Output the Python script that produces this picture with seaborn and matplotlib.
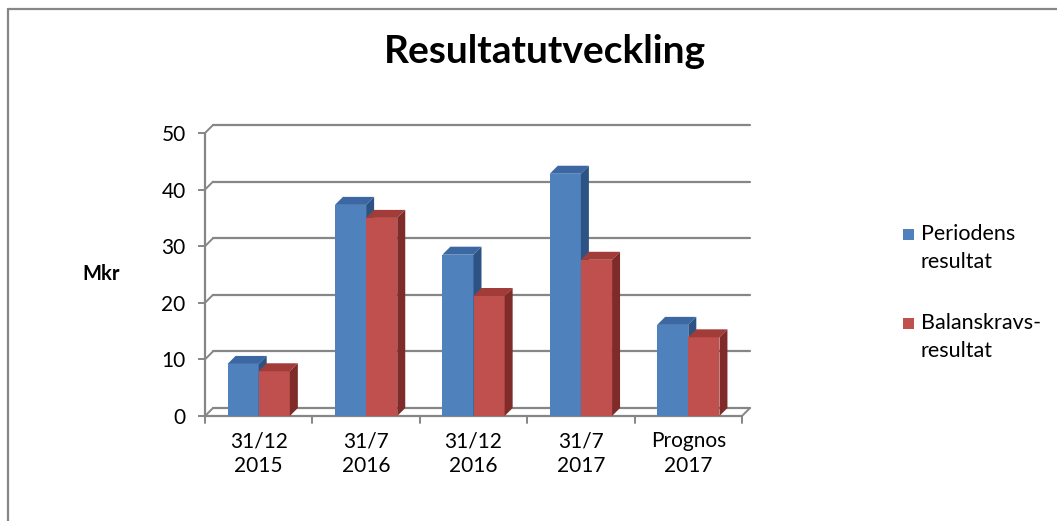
import pandas as pd
import matplotlib.pyplot as plt
import seaborn as sns
from matplotlib.patches import Polygon, Rectangle
from matplotlib.lines import Line2D

# Data
perioder = ['31/12\n2015', '31/7\n2016', '31/12\n2016', '31/7\n2017', 'Prognos\n2017']
periodens_resultat = [9.2, 37.3, 28.5, 42.8, 16.1]
balanskravsresultat = [7.9, 35.0, 21.2, 27.6, 13.9]
serier = ['Periodens resultat', 'Balanskravs-resultat']
y_ticks = [0, 10, 20, 30, 40, 50]

df = pd.DataFrame({
    'Period': perioder * 2,
    'Mkr': periodens_resultat + balanskravsresultat,
    'Serie': [serier[0]] * 5 + [serier[1]] * 5,
})

front = ['#4F81BD', '#C0504D']
top = ['#3B68A3', '#A23C39']
side = ['#2C5384', '#7E2B29']
grey = '#868686'

sns.set_style('white')
plt.rcParams['font.family'] = ['Lato', 'DejaVu Sans']
plt.rcParams['text.color'] = 'black'
plt.rcParams['xtick.color'] = 'black'
plt.rcParams['ytick.color'] = 'black'

W, H = 1057, 521
fig = plt.figure(figsize=(W / 100, H / 100), dpi=100)

# plot area in pixels (front face of the 3D box)
x0, x1, y0, y1 = 205, 742, 133, 416
ax = fig.add_axes([x0 / W, (H - y1) / H, (x1 - x0) / W, (y1 - y0) / H])

sns.barplot(data=df, x='Period', y='Mkr', hue='Serie', palette=front,
            width=0.58, saturation=1, legend=False, ax=ax)

ax.set_xlim(-0.5, 4.5)
ax.set_ylim(0, 50)
dx = 8 / ((x1 - x0) / 5)   # depth offset in data units
dy = 8 / ((y1 - y0) / 50)

# fake 3D: top and side faces from each bar
for i, cont in enumerate(ax.containers):
    for bar in cont:
        bx, bw, bh = bar.get_x(), bar.get_width(), bar.get_height()
        bar.set_zorder(3 + i)
        bar.set_edgecolor('none')
        ax.add_patch(Polygon([(bx, bh), (bx + dx, bh + dy), (bx + bw + dx, bh + dy), (bx + bw, bh)],
                             closed=True, facecolor=top[i], edgecolor='none', zorder=3 + i, clip_on=False))
        ax.add_patch(Polygon([(bx + bw, 0), (bx + bw + dx, dy), (bx + bw + dx, bh + dy), (bx + bw, bh)],
                             closed=True, facecolor=side[i], edgecolor='none', zorder=3 + i, clip_on=False))

# back wall gridlines, left axis and floor
for v in y_ticks:
    ax.plot([-0.5 + dx, 4.5 + dx], [v + dy, v + dy], color=grey, lw=1.6, zorder=1, clip_on=False)
    ax.plot([-0.5, -0.5 + dx], [v, v + dy], color=grey, lw=1.4, zorder=1, clip_on=False)
ax.plot([-0.5, -0.5], [0, 50], color=grey, lw=1.6, zorder=1, clip_on=False)
ax.plot([-0.5, 4.5], [0, 0], color=grey, lw=1.6, zorder=2, clip_on=False)
ax.plot([4.5, 4.5 + dx], [0, dy], color=grey, lw=1.4, zorder=2, clip_on=False)
for b in range(6):
    ax.plot([b - 0.5, b - 0.5], [0, -1.2], color=grey, lw=1.4, clip_on=False)

sns.despine(ax=ax, left=True, bottom=True)
ax.set_yticks(y_ticks)
ax.set_yticklabels([str(v) for v in y_ticks], fontsize=15)
ax.tick_params(axis='y', length=5, width=1.4, color=grey, pad=9, left=True, labelcolor='black')
ax.tick_params(axis='x', length=0, pad=11, labelsize=15, labelcolor='black')
for lab in ax.get_xticklabels():
    lab.set_linespacing(1.3)
ax.set_xlabel('')
ax.set_ylabel('')

fig.text(101 / W, 1 - 274 / H, 'Mkr', fontsize=14.5, fontweight='bold', ha='center', va='center')
fig.text(545 / W, 1 - 63 / H, 'Resultatutveckling', fontsize=28, fontweight='bold',
         ha='center', va='baseline')

# legend
leg_rows = [('Periodens', 'resultat'), ('Balanskravs-', 'resultat')]
for i, (l1, l2) in enumerate(leg_rows):
    yc = 234 + i * 89
    fig.patches.append(Rectangle((903 / W, 1 - (yc + 6) / H), 11 / W, 11 / H,
                                 transform=fig.transFigure, facecolor=front[i], edgecolor='none'))
    fig.text(921 / W, 1 - yc / H, l1, fontsize=15.5, va='center')
    fig.text(921 / W, 1 - (yc + 28) / H, l2, fontsize=15.5, va='center')

# chart border (top and left only visible)
fig.add_artist(Line2D([8 / W, 1], [1 - 9 / H, 1 - 9 / H], transform=fig.transFigure, color=grey, lw=1.6))
fig.add_artist(Line2D([8 / W, 8 / W], [0, 1 - 9 / H], transform=fig.transFigure, color=grey, lw=1.6))

fig.savefig('out.png', dpi=100)
